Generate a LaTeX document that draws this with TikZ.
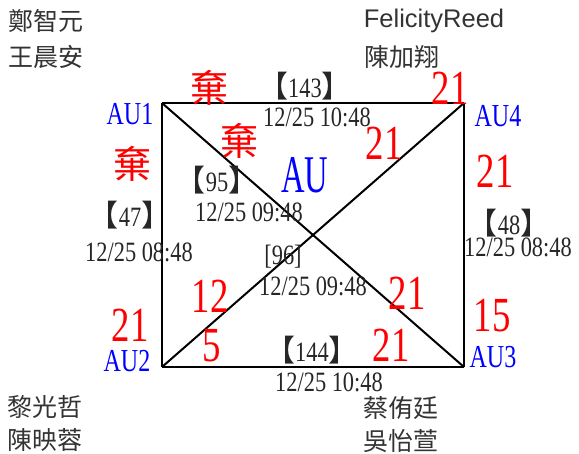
\documentclass[tikz,border=0pt]{standalone}
\usepackage{fontspec}
\setmainfont{Liberation Serif}
\newfontfamily\nar[FakeStretch=0.75]{Liberation Serif}
\newfontfamily\narb[FakeStretch=0.8]{Liberation Serif}
\newfontfamily\cjk{Noto Sans CJK TC}
\newfontfamily\arial{Liberation Sans}
\newcommand\bk[1]{{\cjk\fontsize{30}{30}\selectfont【}#1{\cjk\fontsize{30}{30}\selectfont】}}
\begin{document}
\begin{tikzpicture}[x=1pt,y=-1pt,
  lbl/.style={inner sep=0pt, outer sep=0pt, anchor=center},
  datelbl/.style={lbl, text=black!85, font=\narb\fontsize{28}{28}\selectfont},
  rnum/.style={lbl, text=red, font=\nar\fontsize{49}{49}\selectfont},
  qi/.style={lbl, text=red, font=\cjk\fontsize{38}{38}\selectfont},
  aulbl/.style={lbl, text=blue, font=\nar\fontsize{32}{32}\selectfont},
  namelbl/.style={lbl, text=black!80, font=\cjk\fontsize{25}{25}\selectfont},
  edge/.style={line width=2pt, black}]
\useasboundingbox (0,0) rectangle (579,454);
% corners
\coordinate (c1) at (162,103);
\coordinate (c4) at (464,103);
\coordinate (c2) at (162,367);
\coordinate (c3) at (464,367);
\draw[edge] (c1) -- (c4);
\draw[edge] (c4) -- (c3);
\draw[edge] (c3) -- (c2);
\draw[edge] (c2) -- (c1);
\draw[edge] (c1) -- (c3);
\draw[edge] (c2) -- (c4);
% names
\node[namelbl] (n1) at (46,21) {鄭智元};
\node[namelbl] (n2) at (46,57) {王晨安};
\node[lbl, text=black!80, font=\arial\fontsize{25.5}{25.5}\selectfont] (n3) at (434,21) {FelicityReed};
\node[namelbl] (n4) at (402,57) {陳加翔};
\node[namelbl] (n5) at (45,407) {黎光哲};
\node[namelbl] (n6) at (45,440) {陳映蓉};
\node[namelbl] (n7) at (401,408) {蔡侑廷};
\node[namelbl] (n8) at (401,441) {吳怡萱};
% AU labels
\node[aulbl] (au1) at (130,114) {AU1};
\node[aulbl] (au4) at (498,116) {AU4};
\node[aulbl] (au2) at (127,361) {AU2};
\node[aulbl] (au3) at (493,357) {AU3};
\node[lbl, text=blue, font=\nar\fontsize{53}{53}\selectfont] (au) at (305,175) {\scalebox{0.82}[1]{AU}};
% red marks
\node[qi] (q1) at (209,88) {棄};
\node[qi] (q2) at (239,141) {棄};
\node[qi] (q3) at (132,164) {棄};
\node[rnum] (r1) at (450,88) {21};
\node[rnum] (r2) at (384,143) {21};
\node[rnum] (r3) at (495,171) {21};
\node[rnum] (r4) at (210,296) {12};
\node[rnum] (r5) at (407,293) {21};
\node[rnum] (r6) at (212,346) {5};
\node[rnum] (r7) at (391,345) {21};
\node[rnum] (r8) at (130,325) {21};
\node[rnum] (r9) at (492,316) {15};
% edge labels
\node[datelbl] (b143) at (305,86) {\bk{143}};
\node[datelbl] (d143) at (317,117) {12/25 10:48};
\node[datelbl] (b95) at (217,180) {\bk{95}};
\node[datelbl] (d95) at (249,212) {12/25 09:48};
\node[datelbl] (b96) at (283,257) {[96]};
\node[datelbl] (d96) at (313,286) {12/25 09:48};
\node[datelbl] (b47) at (130,215) {\bk{47}};
\node[datelbl] (d47) at (139,252) {12/25 08:48};
\node[datelbl] (b48) at (509,223) {\bk{48}};
\node[datelbl] (d48) at (518,247) {12/25 08:48};
\node[datelbl] (b144) at (312,350) {\bk{144}};
\node[datelbl] (d144) at (329,382) {12/25 10:48};
\end{tikzpicture}
\end{document}
